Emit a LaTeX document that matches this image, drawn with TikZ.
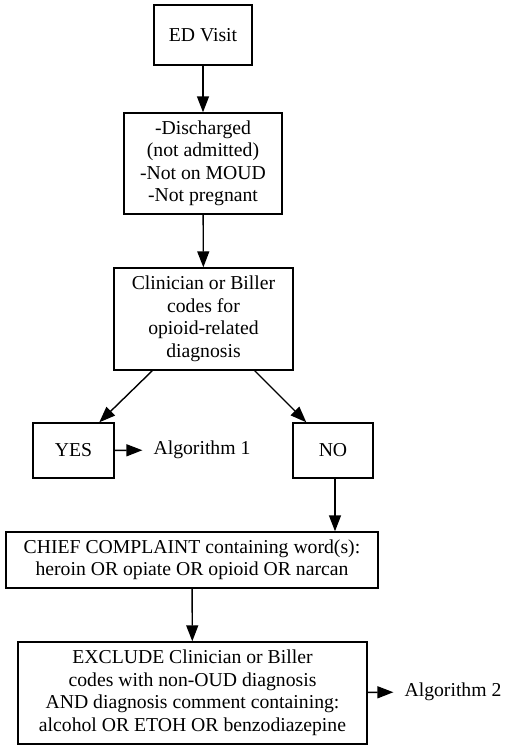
\documentclass[tikz,border=0pt]{standalone}
\usepackage{fontspec}
\setmainfont{Liberation Serif}
\usetikzlibrary{arrows.meta}

\begin{document}
\begin{tikzpicture}[x=1pt,y=-1pt,
	box/.style={draw,line width=1.4pt,inner sep=0pt,align=center,font=\fontsize{19.7}{22.5}\selectfont},
	txt/.style={inner ysep=0pt,inner xsep=11pt,font=\fontsize{19.7}{22.5}\selectfont},
	>={Triangle[length=16pt,width=12pt]}]
\useasboundingbox (0,0) rectangle (510,750);
	\node[box,minimum width=98pt,minimum height=60pt] (0) at (203,35) {ED Visit};
\node[box,minimum width=158pt,minimum height=101pt] (1) at (203,163.5) {-Discharged\\(not admitted)\\-Not on MOUD\\-Not pregnant};
\node[box,minimum width=179pt,minimum height=102pt] (2) at (203.5,319) {Clinician or Biller\\codes for\\opioid-related\\diagnosis};
\node[box,minimum width=81pt,minimum height=55pt] (3) at (73.5,450.5) {YES};
\node[box,minimum width=80pt,minimum height=55pt] (4) at (333,450.5) {NO};
\node[txt] (5) at (202,450) {Algorithm 1};
\node[box,minimum width=372pt,minimum height=56pt] (6) at (192,560) {CHIEF COMPLAINT containing word(s):\\heroin OR opiate OR opioid OR narcan};
\node[box,minimum width=349pt,minimum height=102pt] (7) at (192.5,693) {EXCLUDE Clinician or Biller\\codes with non-OUD diagnosis\\AND diagnosis comment containing:\\alcohol OR ETOH OR benzodiazepine};
\node[txt] (8) at (453,692) {Algorithm 2};
\draw [->,line width=1.4pt](0)--(1);
\draw [->,line width=1.4pt](1)--(2);
\draw [->,line width=1.4pt]([xshift=39pt]2.south west)--([xshift=67pt]3.north west);
\draw [->,line width=1.4pt]([xshift=-39pt]2.south east)--([xshift=14pt]4.north west);
\draw [->,line width=1.4pt](3)--(5);
\draw [->,line width=1.4pt]([xshift=2pt]4.south)--([xshift=2pt]4.south |- 6.north);
\draw [->,line width=1.4pt](6)--(7);
\draw [->,line width=1.4pt](7)--(8);
	\end{tikzpicture}
\end{document}
